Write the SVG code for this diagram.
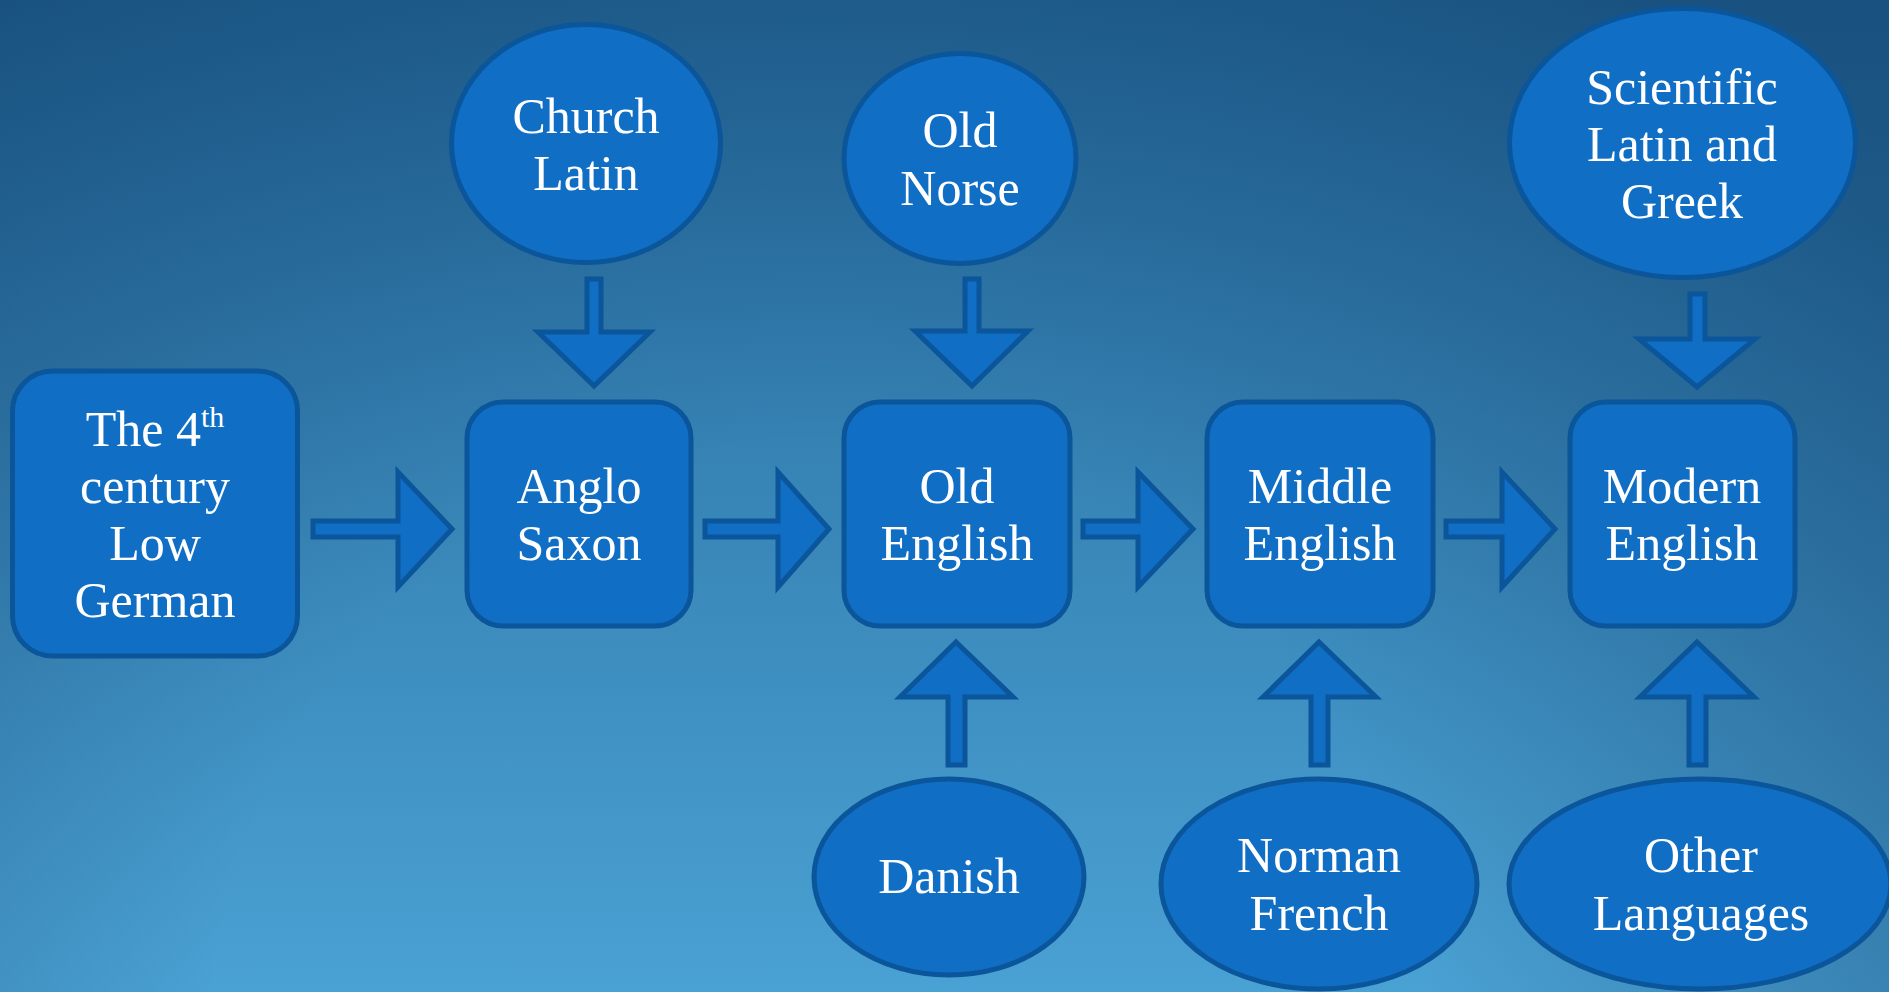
<svg xmlns="http://www.w3.org/2000/svg" width="1889" height="992" viewBox="0 0 1889 992">
<defs>
<linearGradient id="bg" x1="0" y1="0" x2="0" y2="1">
<stop offset="0" stop-color="#25699a"/>
<stop offset="1" stop-color="#4aa1d3"/>
</linearGradient>
<radialGradient id="vig" cx="820" cy="1050" r="1350" gradientUnits="userSpaceOnUse">
<stop offset="0.45" stop-color="#0a3560" stop-opacity="0"/>
<stop offset="1" stop-color="#0a3560" stop-opacity="0.45"/>
</radialGradient>
<style>
.shape{fill:#106fc5;stroke:#0b559b;stroke-width:5;stroke-linejoin:miter}
.lbl{font-family:"Liberation Serif","Times New Roman",serif;font-size:50px;fill:#ffffff;text-anchor:middle}
</style>
</defs>
<rect x="0" y="0" width="1889" height="992" fill="url(#bg)"/>
<rect x="0" y="0" width="1889" height="992" fill="url(#vig)"/>

<g id="connectors">
<polygon class="shape" points="313,521 398,521 398,472 452,529 398,587 398,537 313,537"/>
<polygon class="shape" points="705,521 778,521 778,472 829,529 778,587 778,537 705,537"/>
<polygon class="shape" points="1083,521 1138,521 1138,472 1193,529 1138,587 1138,537 1083,537"/>
<polygon class="shape" points="1446,521 1502,521 1502,472 1555,529 1502,587 1502,537 1446,537"/>
<polygon class="shape" points="587,279 601,279 601,332 650,332 594,386 538,332 587,332"/>
<polygon class="shape" points="965,279 979,279 979,331 1028,331 972,386 915,331 965,331"/>
<polygon class="shape" points="1690,294 1705,294 1705,339 1755,339 1697,387 1639,339 1690,339"/>
<polygon class="shape" points="956,642 1013,697 965,697 965,765 948,765 948,697 900,697"/>
<polygon class="shape" points="1319,642 1376,697 1328,697 1328,765 1311,765 1311,697 1263,697"/>
<polygon class="shape" points="1697,642 1754,697 1706,697 1706,765 1689,765 1689,697 1640,697"/>
</g>

<g id="low-german">
<rect class="shape" x="12.5" y="371" width="285" height="285" rx="40" ry="40"/>
<text class="lbl" x="155" y="446">The 4<tspan font-size="30" dy="-19">th</tspan></text>
<text class="lbl" x="155" y="503">century</text>
<text class="lbl" x="155" y="560">Low</text>
<text class="lbl" x="155" y="617">German</text>
</g>

<g id="anglo-saxon">
<rect class="shape" x="467" y="402" width="224" height="224" rx="36" ry="36"/>
<text class="lbl" x="579" y="503">Anglo</text>
<text class="lbl" x="579" y="560">Saxon</text>
</g>

<g id="old-english">
<rect class="shape" x="844" y="402" width="226" height="224" rx="36" ry="36"/>
<text class="lbl" x="957" y="503">Old</text>
<text class="lbl" x="957" y="560">English</text>
</g>

<g id="middle-english">
<rect class="shape" x="1207" y="402" width="226" height="224" rx="36" ry="36"/>
<text class="lbl" x="1320" y="503">Middle</text>
<text class="lbl" x="1320" y="560">English</text>
</g>

<g id="modern-english">
<rect class="shape" x="1570" y="402" width="225" height="224" rx="36" ry="36"/>
<text class="lbl" x="1682" y="503">Modern</text>
<text class="lbl" x="1682" y="560">English</text>
</g>

<g id="church-latin">
<ellipse class="shape" cx="586" cy="143.5" rx="134.5" ry="119"/>
<text class="lbl" x="586" y="133">Church</text>
<text class="lbl" x="586" y="190">Latin</text>
</g>

<g id="old-norse">
<ellipse class="shape" cx="960" cy="158.5" rx="116" ry="105"/>
<text class="lbl" x="960" y="147">Old</text>
<text class="lbl" x="960" y="205">Norse</text>
</g>

<g id="scientific">
<ellipse class="shape" cx="1682.5" cy="143" rx="173" ry="134.5"/>
<text class="lbl" x="1682" y="104">Scientific</text>
<text class="lbl" x="1682" y="161">Latin and</text>
<text class="lbl" x="1682" y="218">Greek</text>
</g>

<g id="danish">
<ellipse class="shape" cx="949" cy="877" rx="135" ry="98"/>
<text class="lbl" x="949" y="893">Danish</text>
</g>

<g id="norman-french">
<ellipse class="shape" cx="1319" cy="884" rx="158" ry="105"/>
<text class="lbl" x="1319" y="872">Norman</text>
<text class="lbl" x="1319" y="930">French</text>
</g>

<g id="other-languages">
<ellipse class="shape" cx="1700" cy="884" rx="191" ry="105"/>
<text class="lbl" x="1701" y="872">Other</text>
<text class="lbl" x="1701" y="930">Languages</text>
</g>
</svg>
